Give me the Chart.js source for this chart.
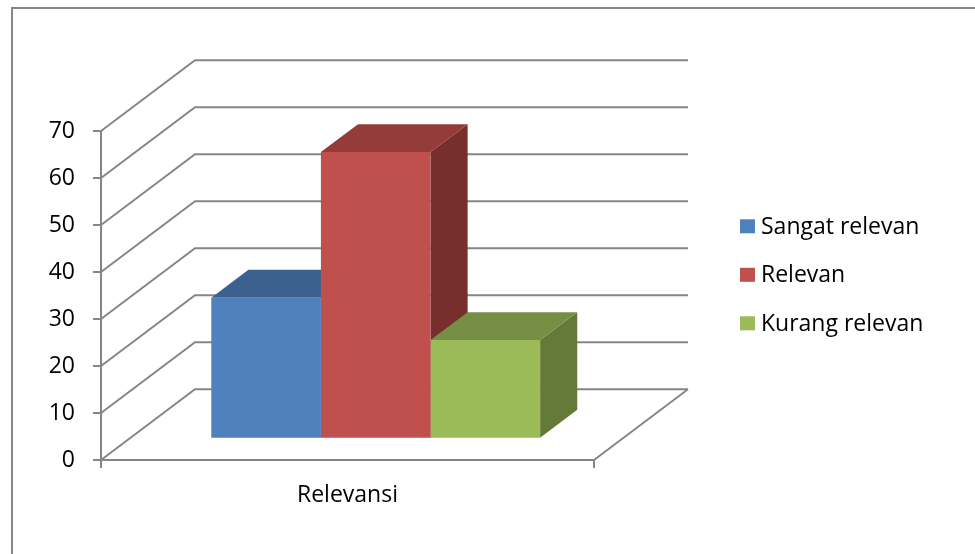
<!DOCTYPE html>
<html>
<head>
<meta charset="utf-8">
<title>Relevansi</title>
<script src="https://cdn.jsdelivr.net/npm/chart.js@4.4.1/dist/chart.umd.min.js"></script>
<style>
    body { margin: 0; background: #fff; }
    #wrap { width: 975px; height: 554px; }
</style>
</head>
<body>
<div id="wrap"><canvas id="myChart" width="975" height="554"></canvas></div>
<script>
// data
const categories = ['Relevansi'];
const seriesNames = ['Sangat relevan', 'Relevan', 'Kurang relevan'];
const sangatRelevan = [30];
const relevan = [61];
const kurangRelevan = [21];
const yMin = 0;
const yMax = 70;
const yStep = 10;

// colours: front, top, side
const frontColors = ['#4F81BD', '#C0504D', '#9BBB59'];
const topColors = ['#3D618E', '#933C3A', '#778F44'];
const sideColors = ['#2F4B6F', '#772F2E', '#657A39'];
const lineGray = '#868686';
const fontFamily = "'Open Sans', 'DejaVu Sans', sans-serif";
const fontSize = 23;

// depth of the 3d box in pixels, and where the bars sit inside it
const DX = 94;
const DY = -70.7;
const BAR_FRONT = 0.3;
const BAR_BACK = 0.695;

const frame = {
    id: 'frame',
    beforeDraw(chart) {
        const ctx = chart.ctx;
        ctx.save();
        ctx.strokeStyle = lineGray;
        ctx.lineWidth = 2;
        ctx.beginPath();
        ctx.moveTo(12, chart.height);
        ctx.lineTo(12, 8);
        ctx.lineTo(chart.width, 8);
        ctx.stroke();
        ctx.restore();
    }
};

const box3d = {
    id: 'box3d',
    beforeDatasetsDraw(chart) {
        const ctx = chart.ctx;
        const area = chart.chartArea;
        const y = chart.scales.y;

        // back wall and left wall
        ctx.save();
        ctx.strokeStyle = lineGray;
        ctx.lineWidth = 2;
        ctx.beginPath();
        y.ticks.forEach(function (t) {
            const py = y.getPixelForValue(t.value);
            ctx.moveTo(area.left, py);
            ctx.lineTo(area.left + DX, py + DY);
            ctx.lineTo(area.right + DX, py + DY);
        });
        // floor, right edge
        ctx.moveTo(area.right, area.bottom);
        ctx.lineTo(area.right + DX, area.bottom + DY);
        ctx.stroke();
        ctx.restore();

        // top and side faces, left to right
        const fx = BAR_FRONT * DX, fy = BAR_FRONT * DY;
        const bx = (BAR_BACK - BAR_FRONT) * DX, by = (BAR_BACK - BAR_FRONT) * DY;
        chart.data.datasets.forEach(function (ds, i) {
            const bar = chart.getDatasetMeta(i).data[0];
            const L = bar.x - bar.width / 2 + fx;
            const R = bar.x + bar.width / 2 + fx;
            const T = bar.y + fy;
            const B = bar.base + fy;

            ctx.fillStyle = sideColors[i];
            ctx.beginPath();
            ctx.moveTo(R, T);
            ctx.lineTo(R + bx, T + by);
            ctx.lineTo(R + bx, B + by);
            ctx.lineTo(R, B);
            ctx.closePath();
            ctx.fill();

            ctx.fillStyle = topColors[i];
            ctx.beginPath();
            ctx.moveTo(L, T);
            ctx.lineTo(R, T);
            ctx.lineTo(R + bx, T + by);
            ctx.lineTo(L + bx, T + by);
            ctx.closePath();
            ctx.fill();
        });

        // front faces drawn by the chart itself, pushed into the box
        ctx.save();
        ctx.translate(fx, fy);
    },
    afterDatasetsDraw(chart) {
        chart.ctx.restore();
    }
};

// legend on the right, one row per dataset
const sideLegend = {
    id: 'sideLegend',
    afterDraw(chart) {
        const ctx = chart.ctx;
        ctx.save();
        ctx.font = fontSize + 'px ' + fontFamily;
        ctx.textBaseline = 'middle';
        chart.data.datasets.forEach(function (ds, i) {
            const cy = 226.3 + i * 48.5;
            ctx.fillStyle = ds.backgroundColor;
            ctx.fillRect(740, cy - 7, 15, 14);
            ctx.fillStyle = '#000';
            ctx.fillText(ds.label, 761, cy + 1);
        });
        ctx.restore();
    }
};

var myChart = document.getElementById('myChart').getContext('2d');
var chart = new Chart(myChart, {
    type: 'bar',
    data: {
        labels: categories,
        datasets: [{
            label: seriesNames[0],
            data: sangatRelevan,
            backgroundColor: frontColors[0],
            borderWidth: 0
        }, {
            label: seriesNames[1],
            data: relevan,
            backgroundColor: frontColors[1],
            borderWidth: 0
        }, {
            label: seriesNames[2],
            data: kurangRelevan,
            backgroundColor: frontColors[2],
            borderWidth: 0
        }]
    },
    options: {
        responsive: false,
        animation: false,
        categoryPercentage: 0.667,
        barPercentage: 1,
        layout: {
            padding: 0
        },
        plugins: {
            tooltip: { enabled: false },
            legend: { display: false }
        },
        scales: {
            x: {
                position: 'bottom',
                grid: { drawOnChartArea: false, tickLength: 8, color: lineGray, lineWidth: 2 },
                border: { color: lineGray, width: 2 },
                ticks: { color: '#000', padding: 14, font: { family: fontFamily, size: fontSize } },
                afterFit(scale) { scale.height = 94; }
            },
            xTop: {
                type: 'linear',
                position: 'top',
                grid: { display: false },
                border: { display: false },
                ticks: { display: false },
                afterFit(scale) { scale.height = 131; }
            },
            y: {
                min: yMin,
                max: yMax,
                ticks: { stepSize: yStep, color: '#000', padding: 18, font: { family: fontFamily, size: fontSize } },
                grid: { drawOnChartArea: false, tickLength: 8, color: lineGray, lineWidth: 2 },
                border: { color: lineGray, width: 2 },
                afterFit(scale) { scale.width = 101; }
            },
            yPad: {
                type: 'linear',
                position: 'right',
                grid: { display: false },
                border: { display: false },
                ticks: { display: false },
                afterFit(scale) { scale.width = 381; }
            }
        }
    },
    plugins: [frame, box3d, sideLegend]
});
</script>
</body>
</html>
